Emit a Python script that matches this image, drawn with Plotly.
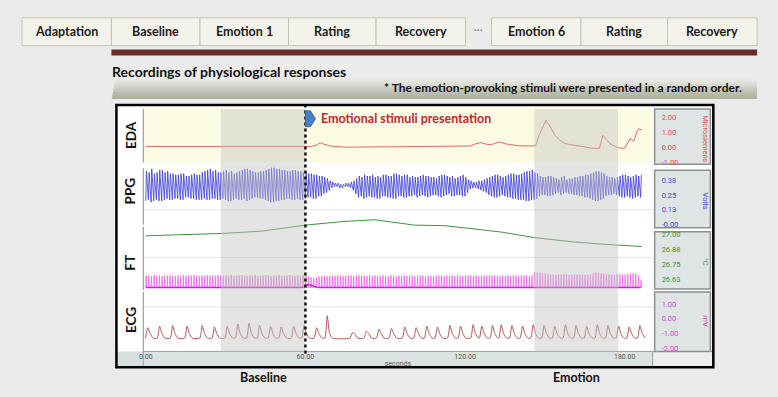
import plotly.graph_objects as go

# ---------------- data ----------------
stages = ["Adaptation", "Baseline", "Emotion 1", "Rating", "Recovery", "Emotion 6", "Rating", "Recovery"]

x_tick_vals = [0, 60, 120, 180]
x_tick_text = ["0.00", "60.00", "120.00", "180.00"]

region_names = ["Baseline", "Emotion"]
region_start = [28.2, 146.0]
region_end = [60.0, 177.5]
stim_onset = 60.0

# EDA (microsiemens)
eda_t = [0, 30, 60, 62, 64, 65.5, 67, 70, 75, 85, 95, 105, 115, 122, 124, 126, 128, 130, 131.5, 133,
         135, 140, 145, 146.5, 148, 150.4, 152, 153.8, 155.5, 157.5, 161, 165, 168.8, 170.5, 171.8,
         173, 174.4, 176, 177.7, 180, 181, 182, 183.4, 184.5, 185.3, 186.5]
eda_v = [0.07, 0.07, 0.07, 0.07, 0.15, 0.32, 0.22, 0.08, 0.02, 0.03, 0.05, 0.06, 0.07, 0.1, 0.25,
         0.33, 0.22, 0.2, 0.3, 0.38, 0.25, 0.12, 0.1, 0.12, 0.9, 1.82, 1.4, 0.82, 0.5, 0.27, 0.15,
         0.05, -0.07, -0.05, 0.82, 0.55, 0.27, 0.1, -0.02, -0.05, 0.3, 0.6, 0.42, 1.04, 1.27, 1.16]

# PPG (volts): one beat per second, peak and trough
ppg_t = list(range(0, 187))
ppg_peak = [0.45, 0.44, 0.47, 0.43, 0.44, 0.46, 0.46, 0.44, 0.45, 0.43,
            0.43, 0.42, 0.42, 0.43, 0.43, 0.41, 0.41, 0.42, 0.43, 0.42,
            0.42, 0.44, 0.45, 0.46, 0.47, 0.45, 0.46, 0.44, 0.44, 0.45,
            0.46, 0.44, 0.45, 0.43, 0.44, 0.45, 0.46, 0.47, 0.47, 0.46,
            0.45, 0.44, 0.44, 0.45, 0.45, 0.46, 0.47, 0.48, 0.48, 0.47,
            0.47, 0.46, 0.46, 0.45, 0.45, 0.46, 0.46, 0.45, 0.45, 0.44,
            0.44, 0.43, 0.43, 0.42, 0.42, 0.41, 0.41, 0.40, 0.39, 0.37,
            0.36, 0.35, 0.35, 0.34, 0.34, 0.35, 0.35, 0.36, 0.37, 0.39,
            0.41, 0.40, 0.42, 0.41, 0.41, 0.42, 0.40, 0.41, 0.40, 0.42,
            0.42, 0.41, 0.41, 0.43, 0.43, 0.42, 0.41, 0.42, 0.42, 0.40,
            0.41, 0.40, 0.40, 0.41, 0.42, 0.41, 0.41, 0.40, 0.40, 0.39,
            0.41, 0.42, 0.42, 0.41, 0.40, 0.41, 0.39, 0.40, 0.41, 0.42,
            0.40, 0.38, 0.37, 0.36, 0.36, 0.37, 0.37, 0.38, 0.39, 0.40,
            0.41, 0.42, 0.42, 0.41, 0.40, 0.41, 0.42, 0.43, 0.43, 0.42,
            0.42, 0.43, 0.44, 0.45, 0.45, 0.46, 0.44, 0.43, 0.41, 0.40,
            0.40, 0.41, 0.41, 0.40, 0.39, 0.38, 0.40, 0.41, 0.38, 0.39,
            0.39, 0.40, 0.40, 0.41, 0.41, 0.42, 0.42, 0.43, 0.44, 0.45,
            0.45, 0.44, 0.43, 0.41, 0.40, 0.40, 0.39, 0.40, 0.41, 0.42,
            0.42, 0.41, 0.40, 0.41, 0.42, 0.41, 0.42]
ppg_trough = [0.20, 0.21, 0.19, 0.20, 0.21, 0.20, 0.20, 0.21, 0.22, 0.21,
              0.21, 0.22, 0.22, 0.21, 0.21, 0.23, 0.23, 0.22, 0.22, 0.21,
              0.21, 0.21, 0.22, 0.21, 0.21, 0.22, 0.22, 0.21, 0.21, 0.22,
              0.21, 0.20, 0.20, 0.21, 0.22, 0.21, 0.21, 0.22, 0.20, 0.21,
              0.22, 0.23, 0.23, 0.22, 0.22, 0.21, 0.20, 0.19, 0.19, 0.20,
              0.20, 0.21, 0.21, 0.22, 0.22, 0.21, 0.21, 0.22, 0.21, 0.21,
              0.22, 0.23, 0.23, 0.22, 0.22, 0.24, 0.24, 0.26, 0.27, 0.29,
              0.31, 0.32, 0.32, 0.31, 0.31, 0.32, 0.32, 0.31, 0.29, 0.26,
              0.23, 0.24, 0.22, 0.23, 0.24, 0.23, 0.23, 0.22, 0.22, 0.24,
              0.24, 0.23, 0.23, 0.22, 0.22, 0.24, 0.24, 0.23, 0.23, 0.24,
              0.24, 0.25, 0.23, 0.24, 0.25, 0.24, 0.23, 0.24, 0.25, 0.25,
              0.24, 0.23, 0.24, 0.25, 0.26, 0.24, 0.24, 0.25, 0.25, 0.24,
              0.24, 0.27, 0.30, 0.31, 0.31, 0.30, 0.29, 0.28, 0.27, 0.25,
              0.24, 0.23, 0.23, 0.24, 0.25, 0.24, 0.23, 0.23, 0.22, 0.22,
              0.21, 0.21, 0.21, 0.20, 0.20, 0.21, 0.21, 0.22, 0.24, 0.25,
              0.25, 0.24, 0.24, 0.25, 0.26, 0.27, 0.25, 0.26, 0.27, 0.26,
              0.26, 0.25, 0.25, 0.24, 0.24, 0.23, 0.23, 0.22, 0.21, 0.20,
              0.20, 0.21, 0.22, 0.24, 0.25, 0.25, 0.26, 0.25, 0.24, 0.23,
              0.23, 0.24, 0.23, 0.22, 0.23, 0.24, 0.23]

# FT (deg C)
ft_t = [0, 29, 44, 60, 74, 86, 101, 112.5, 122.6, 134, 146, 160, 171.4, 186.4]
ft_v = [26.99, 27.01, 27.03, 27.08, 27.11, 27.125, 27.08, 27.075, 27.05, 27.02, 26.975, 26.94, 26.92, 26.90]

# magenta channel (mV scale): spike tops every second and its baseline
mag_t = list(range(0, 187))
mag_hi = [2.90, 2.93, 2.88, 2.95, 2.90, 2.92, 2.88, 2.93, 2.90, 2.94,
          2.91, 2.88, 2.92, 2.90, 2.93, 2.89, 2.92, 2.90, 2.95, 2.90,
          2.88, 2.92, 2.90, 2.93, 2.89, 2.92, 2.90, 2.94, 2.91, 2.88,
          2.92, 2.90, 2.93, 2.89, 2.92, 2.90, 2.95, 2.90, 2.88, 2.92,
          2.90, 2.93, 2.89, 2.92, 2.90, 2.94, 2.91, 2.88, 2.92, 2.90,
          2.93, 2.89, 2.92, 2.90, 2.95, 2.90, 2.88, 2.92, 2.90, 2.93,
          2.95, 2.85, 2.78, 2.75, 2.80, 2.85, 2.87, 2.88, 2.85, 2.88,
          2.90, 2.87, 2.92, 2.90, 2.88, 2.91, 2.90, 2.93, 2.88, 2.90,
          2.92, 2.89, 2.91, 2.88, 2.93, 2.90, 2.92, 2.89, 2.90, 2.93,
          2.90, 2.88, 2.92, 2.90, 2.87, 2.91, 2.90, 2.93, 2.89, 2.90,
          2.92, 2.88, 2.90, 2.93, 2.90, 2.88, 2.92, 2.90, 2.87, 2.90,
          2.93, 2.90, 2.88, 2.92, 2.90, 2.93, 2.89, 2.92, 2.90, 2.88,
          2.91, 2.90, 2.93, 2.89, 2.92, 2.90, 2.88, 2.92, 2.90, 2.93,
          2.89, 2.92, 2.90, 2.88, 2.92, 2.90, 2.93, 2.89, 2.92, 2.90,
          2.88, 2.92, 2.90, 2.93, 2.89, 2.92, 3.15, 3.12, 3.10, 3.05,
          3.05, 3.00, 3.00, 2.97, 2.95, 2.98, 2.98, 3.00, 3.00, 2.95,
          2.95, 3.00, 3.00, 2.97, 2.97, 2.95, 2.95, 3.00, 3.05, 3.10,
          3.10, 3.05, 3.05, 3.00, 3.00, 2.97, 2.97, 3.00, 3.00, 2.98,
          2.98, 3.02, 3.02, 3.05, 3.05, 2.90, 2.60]
mag_base_t = [0, 59, 61, 63, 65, 186]
mag_base_v = [2.1, 2.1, 2.3, 2.2, 2.1, 2.1]

# ECG (mV): beat peaks
ecg_peak_t = [0.8, 5.2, 10.1, 15.5, 21.2, 25.8, 30.6, 34.6, 38.8, 42.8, 46.9, 50.9, 55.6, 59.5, 64.2,
              68.2, 77.6, 82.9, 87.6, 92.3, 97.3, 101.6, 105.6, 109.6, 114.3, 118.3, 123, 126.3,
              130.3, 133.6, 137.6, 141.6, 145.6, 149.7, 153.7, 157.7, 161.7, 165.7, 169.7, 173.7,
              177.7, 181.7, 185.7]
ecg_peak_v = [-0.6, -0.5, -0.45, -0.5, -0.45, -0.55, -0.5, -0.35, -0.3, -0.45, -0.5, -0.55, -0.5,
              -0.45, -0.6, 0.2, -0.95, -0.85, -0.7, -0.65, -0.55, -0.6, -0.5, -0.55, -0.45, -0.5,
              -0.4, -0.5, -0.45, -0.4, -0.45, -0.5, -0.4, -0.45, -0.5, -0.4, -0.45, -0.5, -0.4,
              -0.45, -0.5, -0.55, -0.45]
ecg_base = -1.3

eda_ticks = ([2, 1, 0, -1], ["2.00", "1.00", "0.00", "-1.00"])
ppg_ticks = ([0.375, 0.25, 0.125, 0], ["0.38", "0.25", "0.13", "-0.00"])
ft_ticks = ([27.0, 26.875, 26.75, 26.625], ["27.00", "26.88", "26.75", "26.63"])
ecg_ticks = ([1, 0, -1, -2], ["1.00", "0.00", "-1.00", "-2.00"])

assert len(eda_t) == len(eda_v)
assert len(ppg_t) == len(ppg_peak) == len(ppg_trough)
assert len(mag_t) == len(mag_hi)
assert len(ecg_peak_t) == len(ecg_peak_v)

# ---------------- layout helpers ----------------
W, H = 778, 397
def px(x): return x / W
def py(y): return 1 - y / H

TXT = "Lato"
TICKF = "Roboto"
RED, BLUE, GREEN, MAG = "#e05050", "#4646e0", "#3a963a", "#d050d0"

fig = go.Figure()

# EDA
fig.add_trace(go.Scatter(x=eda_t, y=eda_v, mode="lines", line=dict(color="#e06868", width=1),
                         xaxis="x", yaxis="y", hoverinfo="skip", showlegend=False))
# PPG: sharp rise, slower fall per beat
bx, by = [], []
for t, pk, tr in zip(ppg_t, ppg_peak, ppg_trough):
    bx += [t, t + 0.25]
    by += [tr, pk]
fig.add_trace(go.Scatter(x=bx, y=by, mode="lines", line=dict(color="#3838d4", width=0.8),
                         xaxis="x", yaxis="y2", hoverinfo="skip", showlegend=False))
# FT
fig.add_trace(go.Scatter(x=ft_t, y=ft_v, mode="lines", line=dict(color="#3a963a", width=1),
                         xaxis="x", yaxis="y3", hoverinfo="skip", showlegend=False))
# magenta channel spikes
mx, my = [], []
for t, hi in zip(mag_t, mag_hi):
    mx += [t, t + 0.15, t + 0.3]
    my += [mag_base_v[0], hi, mag_base_v[0]]
fig.add_trace(go.Scatter(x=mx, y=my, mode="lines", line=dict(color="#f064f0", width=0.8),
                         xaxis="x", yaxis="y4", hoverinfo="skip", showlegend=False))
fig.add_trace(go.Scatter(x=mag_base_t, y=mag_base_v, mode="lines", line=dict(color="#d020d0", width=1.4),
                         xaxis="x", yaxis="y4", hoverinfo="skip", showlegend=False))
# ECG
ex, ey = [], []
for t, v in zip(ecg_peak_t, ecg_peak_v):
    ex += [t - 0.9, t, t + 0.9, t + 2.0]
    ey += [ecg_base, v, ecg_base + 0.3, ecg_base]
fig.add_trace(go.Scatter(x=ex, y=ey, mode="lines", line=dict(color="#b05858", width=1, shape="spline", smoothing=0.6),
                         xaxis="x", yaxis="y4", hoverinfo="skip", showlegend=False))

shapes = []
def rect(x0, y0, x1, y1, fill, line="rgba(0,0,0,0)", lw=0, layer="below"):
    shapes.append(dict(type="rect", xref="paper", yref="paper", x0=px(x0), x1=px(x1),
                       y0=py(y1), y1=py(y0), fillcolor=fill, line=dict(color=line, width=lw), layer=layer))
def hline(x0, x1, y, color, w=1, layer="below"):
    shapes.append(dict(type="line", xref="paper", yref="paper", x0=px(x0), x1=px(x1), y0=py(y), y1=py(y),
                       line=dict(color=color, width=w), layer=layer))
def vline(x, y0, y1, color, w=1, layer="below"):
    shapes.append(dict(type="line", xref="paper", yref="paper", x0=px(x), x1=px(x), y0=py(y0), y1=py(y1),
                       line=dict(color=color, width=w), layer=layer))

# top stage boxes
box_edges = [(18, 108), (108, 197), (197, 286), (286, 374), (374, 464), (490, 580), (580, 667), (667, 757)]
for (x0, x1) in box_edges:
    rect(x0, 18, x1, 46, "#f3f3ec", "#c4c4b2", 1)
rect(108, 50, 757, 56, "#6b2b2b")
# banner gradient
grad = ["#e6e7e1", "#e0e2da", "#d9dcd3", "#d2d5cb", "#cbcfc3", "#c4c8bb", "#bdc1b3", "#b7bbac", "#b1b6a6", "#adb2a1"]
for i, c in enumerate(grad):
    rect(112 - i * 0.4, 80 + i * 2, 757, 82 + i * 2, c)

# chart frame & panels
rect(113, 106, 713, 371, "#ffffff")
rect(140, 109, 652, 164, "#fbfbe4")
for yy in (212, 260, 310):
    hline(140, 652, yy, "#e4e4e4")
rect(113, 355, 140, 371, "#d9dfdf")
rect(140, 355, 652, 371, "#dce3e3", "#9aa0a0", 1)
rect(652, 355, 713, 371, "#eeeeee", "#9aa0a0", 1)
for (a, b) in [(110, 164), (170, 227), (229, 293), (295, 355)]:
    vline(140, a, b, "#8a8a8a", 1)
for (a, b) in [(110, 166), (172, 230), (234, 292), (295, 355)]:
    rect(654, a, 710, b, "#dfe4e4", "#8c9090", 1.5)

# shaded analysis windows (over traces)
for s, e in zip(region_start, region_end):
    shapes.append(dict(type="rect", xref="x", yref="paper", x0=s, x1=e, y0=py(355), y1=py(110),
                       fillcolor="rgba(196,196,196,0.45)", line=dict(width=0), layer="above"))
# stimulus onset dotted line
shapes.append(dict(type="line", xref="x", yref="paper", x0=stim_onset, x1=stim_onset, y0=py(357), y1=py(104),
                   line=dict(color="#111111", width=2.5, dash="dot"), layer="above"))
# blue arrow
ax0, ax1 = 303, 313
path = "M {a},{b} L {c},{b} L {d},{e} L {c},{f} L {a},{f} Z".format(
    a=px(ax0), b=py(112), c=px(ax0 + 5), d=px(ax1), e=py(120), f=py(128))
shapes.append(dict(type="path", xref="paper", yref="paper", path=path, fillcolor="#4a7ec2",
                   line=dict(color="#3d6aa6", width=1), layer="above"))
# frame border
rect(113, 106, 713, 371, "rgba(0,0,0,0)", "#000000", 2.5, layer="above")

ann = []
def text(x, y, s, size=12, color="#1a1a1a", bold=True, xanchor="center", angle=0, family=TXT, xref="paper"):
    ann.append(dict(x=px(x) if xref == "paper" else x, y=py(y), xref=xref, yref="paper",
                    text=("<b>%s</b>" % s) if bold else s, showarrow=False, xanchor=xanchor, yanchor="middle",
                    textangle=angle, font=dict(size=size, color=color, family=family)))

for name, (x0, x1) in zip(stages, box_edges):
    text((x0 + x1) / 2, 32, name, 12.5)
text(477, 30, "···", 11, "#888888", bold=False)
text(107, 72, "Recordings of physiological responses", 14, "#111111", xanchor="left")
text(744, 88, "* The emotion-provoking stimuli were presented in a random order.", 12, "#111111", xanchor="right")
text(317, 120, "Emotional stimuli presentation", 12.5, "#c0282d", xanchor="left")
for lab, yy in zip(["EDA", "PPG", "FT", "ECG"], [136, 193, 265, 323]):
    text(127, yy, lab, 13.5, "#111111", angle=-90)
for lab, yy, col in zip(["Microsiemens", "Volts", "°C", "mV"], [140, 203, 265, 325], [RED, BLUE, GREEN, MAG]):
    text(705, yy, lab, 7.5, col, bold=False, angle=90, family=TICKF)
for name, s, e in zip(region_names, region_start, region_end):
    text((s + e) / 2, 381, name, 12.5, "#111111", xref="x")

def yax(dom_top, dom_bot, rng, ticks, col):
    return dict(domain=[py(dom_bot), py(dom_top)], range=rng, anchor="x", side="right",
                tickvals=ticks[0], ticktext=ticks[1], ticks="", showgrid=False, zeroline=False,
                showline=False, ticklabelstandoff=8, fixedrange=True,
                tickfont=dict(size=7.5, color=col, family=TICKF))

fig.update_layout(
    width=W, height=H, margin=dict(l=0, r=0, t=0, b=0),
    paper_bgcolor="#ebebeb", plot_bgcolor="rgba(0,0,0,0)",
    showlegend=False, shapes=shapes, annotations=ann,
    xaxis=dict(domain=[px(140), px(652)], range=[-0.93, 190.5], anchor="y4",
               tickvals=x_tick_vals, ticktext=x_tick_text, ticks="", showgrid=False, zeroline=False,
               showline=False, fixedrange=True, ticklabelstandoff=0,
               tickfont=dict(size=7, color="#555555", family=TICKF),
               title=dict(text="seconds", font=dict(size=7, color="#555555", family=TICKF), standoff=0)),
    yaxis=yax(107, 166, [(149 - 166) / 15, (149 - 107) / 15], eda_ticks, RED),
    yaxis2=yax(168, 228, [-(228 - 227) / 120, (227 - 168) / 120], ppg_ticks, BLUE),
    yaxis3=yax(216, 294, [27 - (294 - 237) / 120, 27 + (237 - 216) / 120], ft_ticks, GREEN),
    yaxis4=yax(270, 355, [-(355 - 322) / 15, (322 - 270) / 15], ecg_ticks, MAG),
)

fig.write_html("out.html", config={"displayModeBar": False},
               post_script="document.body.style.margin='0px';document.body.style.overflow='hidden';")
